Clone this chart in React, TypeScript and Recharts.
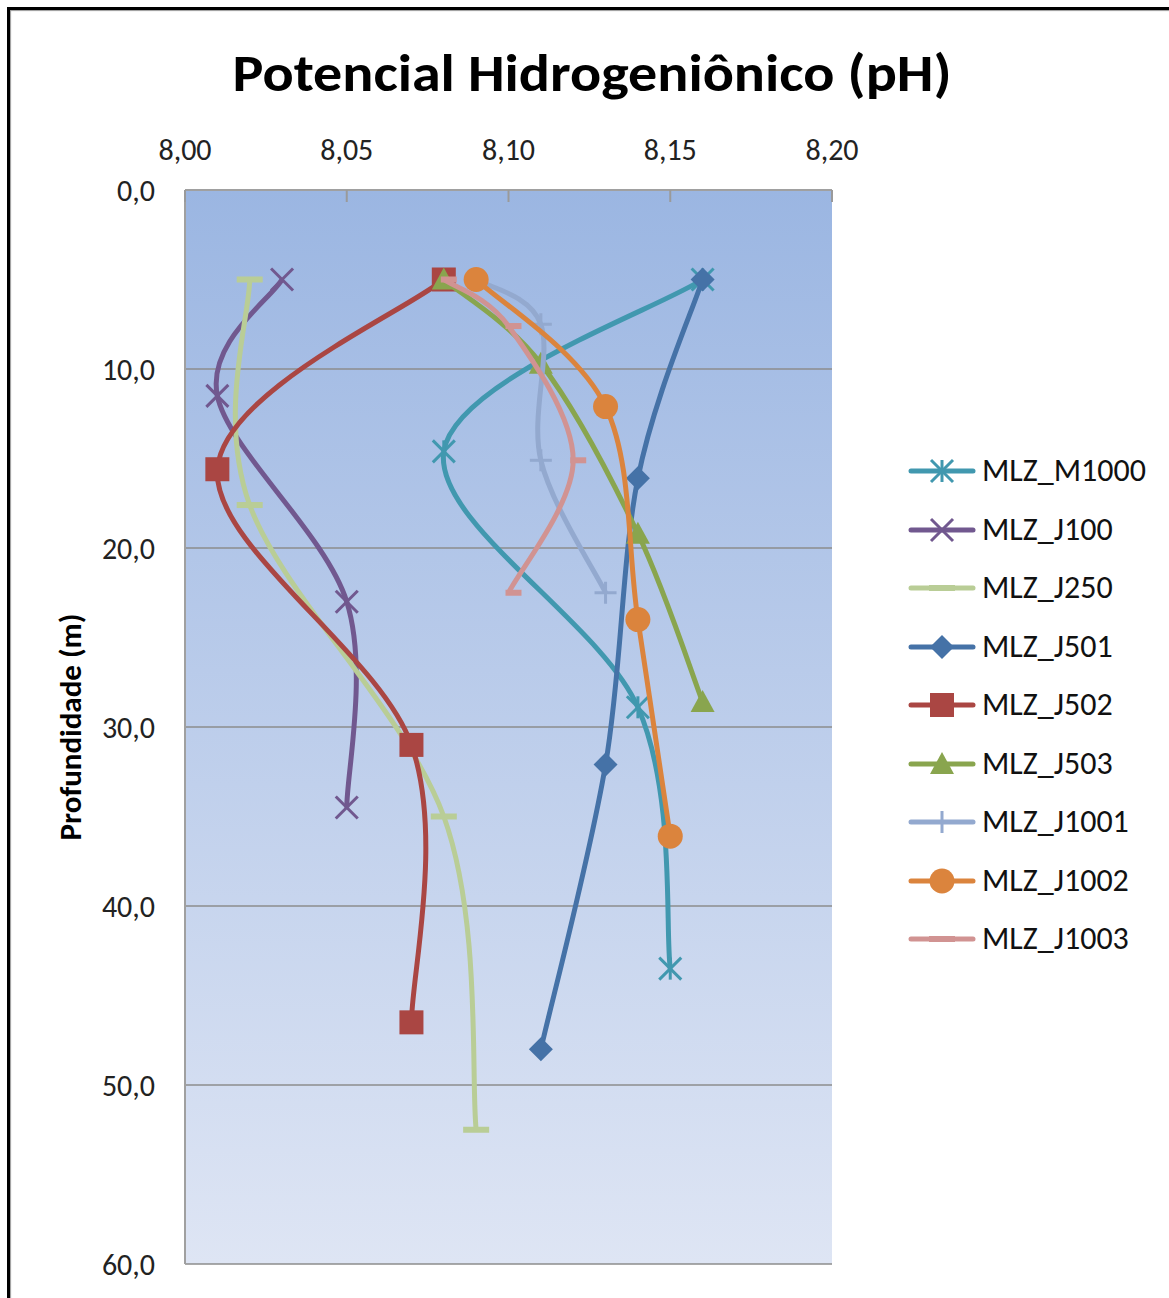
import React from 'react';
import { ScatterChart, Scatter, XAxis, YAxis, CartesianGrid } from 'recharts';

// Axis ticks
const phTicks = [8.0, 8.05, 8.1, 8.15, 8.2];
const depthTicks = [0, 10, 20, 30, 40, 50, 60];

// pH profiles per multilevel well: pH value at each sampling depth (m)
const mlzM1000 = [
  { ph: 8.16, depth: 5.0 },
  { ph: 8.08, depth: 14.6 },
  { ph: 8.14, depth: 28.9 },
  { ph: 8.15, depth: 43.5 },
];
const mlzJ100 = [
  { ph: 8.03, depth: 5.0 },
  { ph: 8.01, depth: 11.5 },
  { ph: 8.05, depth: 23.0 },
  { ph: 8.05, depth: 34.5 },
];
const mlzJ250 = [
  { ph: 8.02, depth: 5.0 },
  { ph: 8.02, depth: 17.6 },
  { ph: 8.08, depth: 35.0 },
  { ph: 8.09, depth: 52.5 },
];
const mlzJ501 = [
  { ph: 8.16, depth: 5.0 },
  { ph: 8.14, depth: 16.1 },
  { ph: 8.13, depth: 32.1 },
  { ph: 8.11, depth: 48.0 },
];
const mlzJ502 = [
  { ph: 8.08, depth: 5.0 },
  { ph: 8.01, depth: 15.6 },
  { ph: 8.07, depth: 31.0 },
  { ph: 8.07, depth: 46.5 },
];
const mlzJ503 = [
  { ph: 8.08, depth: 5.0 },
  { ph: 8.11, depth: 9.7 },
  { ph: 8.14, depth: 19.2 },
  { ph: 8.16, depth: 28.6 },
];
const mlzJ1001 = [
  { ph: 8.09, depth: 5.0 },
  { ph: 8.11, depth: 7.5 },
  { ph: 8.11, depth: 15.1 },
  { ph: 8.13, depth: 22.5 },
];
const mlzJ1002 = [
  { ph: 8.09, depth: 5.0 },
  { ph: 8.13, depth: 12.1 },
  { ph: 8.14, depth: 24.0 },
  { ph: 8.15, depth: 36.1 },
];
const mlzJ1003 = [
  { ph: 8.08, depth: 5.0 },
  { ph: 8.1, depth: 7.6 },
  { ph: 8.12, depth: 15.1 },
  { ph: 8.1, depth: 22.5 },
];

type MarkerKind = 'asterisk' | 'x' | 'dash' | 'diamond' | 'square' | 'triangle' | 'plus' | 'circle' | 'shortDash';

const series: { name: string; data: { ph: number; depth: number }[]; color: string; marker: MarkerKind }[] = [
  { name: 'MLZ_M1000', data: mlzM1000, color: '#4198AF', marker: 'asterisk' },
  { name: 'MLZ_J100', data: mlzJ100, color: '#71588F', marker: 'x' },
  { name: 'MLZ_J250', data: mlzJ250, color: '#B9CD96', marker: 'dash' },
  { name: 'MLZ_J501', data: mlzJ501, color: '#4572A7', marker: 'diamond' },
  { name: 'MLZ_J502', data: mlzJ502, color: '#AA4643', marker: 'square' },
  { name: 'MLZ_J503', data: mlzJ503, color: '#89A54E', marker: 'triangle' },
  { name: 'MLZ_J1001', data: mlzJ1001, color: '#93A9CF', marker: 'plus' },
  { name: 'MLZ_J1002', data: mlzJ1002, color: '#DB843D', marker: 'circle' },
  { name: 'MLZ_J1003', data: mlzJ1003, color: '#D19392', marker: 'shortDash' },
];

const FONT = "'Carlito', 'Open Sans', 'Noto Sans', sans-serif";

// Spreadsheet-style smoothed line: cubic Bezier segments with Catmull-Rom tangents
const smoothCurve = (context: any) => {
  let pts: number[][] = [];
  return {
    areaStart() {},
    areaEnd() {},
    lineStart() {
      pts = [];
    },
    point(x: number, y: number) {
      pts.push([+x, +y]);
    },
    lineEnd() {
      const n = pts.length;
      if (!n) return;
      context.moveTo(pts[0][0], pts[0][1]);
      const t = 1 / 6;
      for (let i = 0; i < n - 1; i++) {
        const p0 = pts[i - 1] || pts[i];
        const p1 = pts[i];
        const p2 = pts[i + 1];
        const p3 = pts[i + 2] || p2;
        context.bezierCurveTo(
          p1[0] + (p2[0] - p0[0]) * t,
          p1[1] + (p2[1] - p0[1]) * t,
          p2[0] - (p3[0] - p1[0]) * t,
          p2[1] - (p3[1] - p1[1]) * t,
          p2[0],
          p2[1]
        );
      }
    },
  };
};

function Marker({ kind, cx, cy, color }: { kind: MarkerKind; cx: number; cy: number; color: string }) {
  const s = 11;
  switch (kind) {
    case 'asterisk':
      return (
        <g stroke={color} strokeWidth={3}>
          <line x1={cx - s} y1={cy - s} x2={cx + s} y2={cy + s} />
          <line x1={cx - s} y1={cy + s} x2={cx + s} y2={cy - s} />
          <line x1={cx} y1={cy - s} x2={cx} y2={cy + s} />
        </g>
      );
    case 'x':
      return (
        <g stroke={color} strokeWidth={3}>
          <line x1={cx - s} y1={cy - s} x2={cx + s} y2={cy + s} />
          <line x1={cx - s} y1={cy + s} x2={cx + s} y2={cy - s} />
        </g>
      );
    case 'dash':
      return <rect x={cx - 13} y={cy - 3} width={26} height={6} fill={color} />;
    case 'shortDash':
      return <rect x={cx - 3} y={cy - 3} width={16} height={6} fill={color} />;
    case 'diamond':
      return <polygon points={`${cx},${cy - 12} ${cx + 12},${cy} ${cx},${cy + 12} ${cx - 12},${cy}`} fill={color} />;
    case 'square':
      return <rect x={cx - 12} y={cy - 12} width={24} height={24} fill={color} />;
    case 'triangle':
      return <polygon points={`${cx},${cy - 12} ${cx + 12},${cy + 10} ${cx - 12},${cy + 10}`} fill={color} />;
    case 'plus':
      return (
        <g stroke={color} strokeWidth={3}>
          <line x1={cx - s} y1={cy} x2={cx + s} y2={cy} />
          <line x1={cx} y1={cy - s} x2={cx} y2={cy + s} />
        </g>
      );
    case 'circle':
      return <circle cx={cx} cy={cy} r={12.5} fill={color} />;
    default:
      return null;
  }
}

const fmtPh = (v: number) => v.toFixed(2).replace('.', ',');
const fmtDepth = (v: number) => v.toFixed(1).replace('.', ',');

function PhTick(props: any) {
  const { x, y, payload } = props;
  return (
    <g>
      <text x={x} y={y} textAnchor="middle" fontSize={30} fill="#222" fontFamily={FONT}>
        {fmtPh(payload.value)}
      </text>
      <line x1={x} x2={x} y1={y + 30} y2={y + 42} stroke="#9a9a9a" strokeWidth={2} />
    </g>
  );
}

function DepthTick(props: any) {
  const { x, y, payload } = props;
  return (
    <text x={x} y={y} dy="0.36em" textAnchor="end" fontSize={30} fill="#222" fontFamily={FONT}>
      {fmtDepth(payload.value)}
    </text>
  );
}

function LegendIcon({ kind, color }: { kind: MarkerKind; color: string }) {
  return (
    <svg width={70} height={36} style={{ display: 'block' }}>
      <line x1={4} y1={18} x2={66} y2={18} stroke={color} strokeWidth={5} strokeLinecap="round" />
      <Marker kind={kind === 'shortDash' ? 'dash' : kind} cx={35} cy={18} color={color} />
    </svg>
  );
}

export default function App() {
  return (
    <div
      style={{
        position: 'relative',
        width: 1169,
        height: 1298,
        overflow: 'hidden',
        background: '#fff',
        fontFamily: FONT,
      }}
    >
      <style>{'body{margin:0;overflow:hidden;}'}</style>
      <svg width={0} height={0} style={{ position: 'absolute' }}>
        <defs>
          <linearGradient id="plotBg" x1="0" y1="0" x2="0" y2="1">
            <stop offset="0%" stopColor="#9BB6E2" />
            <stop offset="100%" stopColor="#DEE5F4" />
          </linearGradient>
        </defs>
      </svg>

      {/* frame */}
      <div
        style={{
          position: 'absolute',
          left: 7,
          top: 7,
          width: 1300,
          height: 1400,
          borderTop: '3px solid #000',
          borderLeft: '3px solid #000',
          boxShadow: 'inset 1px 1px 1px #999',
        }}
      />

      {/* title */}
      <svg width={1169} height={120} style={{ position: 'absolute', left: 0, top: 0 }}>
        <text
          x={592}
          y={91}
          textAnchor="middle"
          fontSize={52}
          fontWeight="bold"
          fontFamily={FONT}
          fill="#000"
          textLength={719}
          lengthAdjust="spacingAndGlyphs"
        >
          Potencial Hidrogeniônico (pH)
        </text>
      </svg>

      <div style={{ position: 'absolute', left: 0, top: 0 }}>
        <ScatterChart width={1169} height={1298} margin={{ top: 150, right: 337, bottom: 34, left: 105 }}>
          <CartesianGrid
            vertical={false}
            stroke="#8c8c8c"
            strokeWidth={1.5}
            fill="url(#plotBg)"
            fillOpacity={1}
          />
          <XAxis
            type="number"
            dataKey="ph"
            orientation="top"
            domain={[8.0, 8.2]}
            ticks={phTicks}
            height={40}
            tickSize={0}
            tickMargin={30}
            tick={<PhTick />}
            axisLine={{ stroke: '#a0a0a0', strokeWidth: 2 }}
            tickLine={false}
            allowDataOverflow
          />
          <YAxis
            type="number"
            dataKey="depth"
            reversed
            domain={[0, 60]}
            ticks={depthTicks}
            width={80}
            tickSize={0}
            tickMargin={30}
            tick={<DepthTick />}
            axisLine={{ stroke: '#a0a0a0', strokeWidth: 2 }}
            tickLine={false}
            allowDataOverflow
            label={{
              value: 'Profundidade (m)',
              angle: -90,
              position: 'left',
              offset: 35,
              textAnchor: 'middle',
              fontSize: 31,
              fontWeight: 'bold',
              fill: '#000',
              fontFamily: FONT,
            }}
          />
          {series.map((s) => (
            <Scatter
              key={s.name}
              name={s.name}
              data={s.data}
              fill={s.color}
              line={{ stroke: s.color, strokeWidth: 5 }}
              lineType="joint"
              lineJointType={smoothCurve as any}
              isAnimationActive={false}
              shape={(p: any) => <Marker kind={s.marker} cx={p.cx} cy={p.cy} color={s.color} />}
            />
          ))}
        </ScatterChart>
      </div>

      {/* legend */}
      {series.map((s, i) => (
        <div
          key={s.name}
          style={{
            position: 'absolute',
            left: 907,
            top: 453 + i * 58.5,
            height: 36,
            display: 'flex',
            alignItems: 'center',
          }}
        >
          <LegendIcon kind={s.marker} color={s.color} />
          <span style={{ marginLeft: 5, fontSize: 32, color: '#111', lineHeight: '36px', whiteSpace: 'nowrap' }}>
            {s.name}
          </span>
        </div>
      ))}
    </div>
  );
}
